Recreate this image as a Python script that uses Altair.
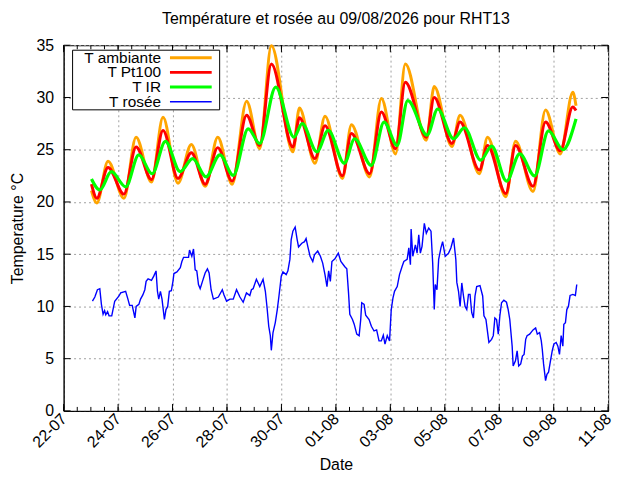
import altair as alt
import pandas as pd

FONT = "Liberation Sans"

series_names = ["T ambiante", "T Pt100", "T IR", "T rosée"]
series_colors = ["#ffa500", "#ff0000", "#00ff00", "#0000ff"]

# time in days since 22-07-2026 00:00
amb_days = [1.022, 1.22, 1.63, 2.215, 2.66, 3.226, 3.65, 4.2, 4.69, 5.2,
            5.66, 6.19, 6.72, 7.2, 7.63, 8.42, 8.66, 9.23, 9.6, 10.24,
            10.57, 11.24, 11.67, 12.19, 12.55, 13.32, 13.61, 14.26, 14.56, 15.27,
            15.57, 16.24, 16.6, 17.24, 17.7, 18.24, 18.7, 18.82]
amb_vals = [21.1, 19.9, 23.9, 20.35, 26.2, 21.9, 28.1, 21.8, 25.5, 21.5,
            26.2, 21.7, 29.65, 25.1, 34.95, 24.8, 29.0, 23.7, 28.2, 22.25,
            27.4, 22.4, 29.9, 24.6, 33.2, 25.9, 31.05, 25.3, 28.3, 22.7,
            26.2, 20.5, 25.8, 21.0, 28.8, 24.6, 30.5, 29.2]

pt_days = [1.022, 1.22, 1.63, 2.215, 2.66, 3.226, 3.65, 4.2, 4.69, 5.2,
           5.66, 6.19, 6.72, 7.2, 7.63, 8.42, 8.66, 9.23, 9.6, 10.24,
           10.57, 11.24, 11.67, 12.19, 12.55, 13.32, 13.61, 14.26, 14.56, 15.27,
           15.57, 16.24, 16.6, 17.24, 17.7, 18.24, 18.7, 18.82]
pt_vals = [21.7, 20.35, 23.3, 20.75, 25.25, 22.15, 26.85, 22.25, 24.7, 21.7,
           25.2, 22.0, 28.3, 25.4, 33.2, 25.25, 28.05, 24.15, 27.3, 22.5,
           26.55, 22.7, 28.6, 25.1, 31.45, 26.2, 30.0, 25.6, 27.65, 23.05,
           25.4, 20.8, 25.4, 21.5, 27.65, 24.9, 29.1, 28.75]

ir_days = [1.022, 1.33, 1.75, 2.28, 2.76, 3.25, 3.74, 4.28, 4.74, 5.23,
           5.74, 6.23, 6.78, 7.2, 7.79, 8.46, 8.76, 9.3, 9.72, 10.31,
           10.69, 11.3, 11.77, 12.25, 12.64, 13.35, 13.74, 14.32, 14.72, 15.32,
           15.72, 16.27, 16.75, 17.3, 17.81, 18.34, 18.82]
ir_vals = [22.2, 21.15, 22.9, 21.45, 24.5, 22.7, 25.8, 22.9, 24.15, 22.4,
           24.5, 22.55, 27.0, 25.6, 31.0, 26.2, 27.5, 24.8, 26.85, 23.7,
           26.05, 23.5, 27.65, 25.4, 29.7, 26.4, 28.9, 26.05, 27.1, 24.0,
           25.35, 22.0, 24.6, 22.5, 26.8, 25.0, 27.95]

dew_days = [1.058, 1.146, 1.241, 1.328, 1.387, 1.449, 1.504, 1.547, 1.613, 1.668,
            1.766, 1.876, 2.033, 2.095, 2.277, 2.361, 2.423, 2.518, 2.617, 2.664,
            2.763, 2.825, 2.909, 2.982, 3.029, 3.102, 3.226, 3.31, 3.394, 3.445,
            3.493, 3.555, 3.613, 3.701, 3.759, 3.821, 3.883, 3.956, 4.015, 4.051,
            4.161, 4.285, 4.343, 4.405, 4.588, 4.624, 4.708, 4.770, 4.832, 4.891,
            4.953, 5.015, 5.099, 5.197, 5.281, 5.343, 5.416, 5.5, 5.682, 5.828,
            5.891, 5.985, 6.109, 6.23, 6.350, 6.474, 6.595, 6.715, 6.839, 6.898,
            6.96, 7.08, 7.204, 7.325, 7.409, 7.471, 7.533, 7.591, 7.628, 7.69,
            7.774, 7.847, 7.909, 7.993, 8.055, 8.175, 8.237, 8.310, 8.358, 8.42,
            8.504, 8.577, 8.628, 8.748, 8.847, 8.905, 8.967, 9.051, 9.15, 9.212,
            9.332, 9.431, 9.515, 9.599, 9.672, 9.734, 9.796, 9.854, 9.964, 10.088,
            10.182, 10.328, 10.401, 10.464, 10.511, 10.609, 10.672, 10.766, 10.854, 10.912,
            10.949, 11.036, 11.095, 11.219, 11.303, 11.401, 11.496, 11.584, 11.668, 11.741,
            11.803, 11.887, 11.971, 12.033, 12.095, 12.153, 12.252, 12.336, 12.434, 12.496,
            12.617, 12.679, 12.737, 12.763, 12.825, 12.920, 12.982, 13.044, 13.102, 13.164,
            13.248, 13.321, 13.409, 13.493, 13.555, 13.613, 13.650, 13.712, 13.774, 13.858,
            13.920, 14.015, 14.139, 14.223, 14.321, 14.405, 14.442, 14.504, 14.562, 14.624,
            14.686, 14.745, 14.807, 14.869, 14.927, 14.989, 15.051, 15.109, 15.171, 15.292,
            15.391, 15.438, 15.511, 15.573, 15.620, 15.719, 15.781, 15.839, 15.901, 15.964,
            16.022, 16.084, 16.168, 16.266, 16.328, 16.387, 16.474, 16.511, 16.595, 16.657,
            16.715, 16.788, 16.85, 16.912, 16.971, 17.022, 17.117, 17.241, 17.336, 17.398,
            17.482, 17.544, 17.580, 17.628, 17.701, 17.752, 17.810, 17.872, 17.945, 18.007,
            18.091, 18.153, 18.212, 18.274, 18.336, 18.372, 18.431, 18.482, 18.540, 18.602,
            18.701, 18.796, 18.847]
dew_vals = [10.5, 10.9, 11.6, 11.7, 10.2, 9.25, 9.6, 9.2, 9.5, 9.1,
            9.1, 10.5, 11.0, 11.3, 11.45, 10.7, 10.1, 10.1, 8.9, 10.0,
            10.2, 10.7, 11.1, 11.6, 12.4, 12.65, 12.5, 12.9, 13.4, 11.45,
            10.7, 11.45, 10.7, 8.75, 9.7, 10.0, 11.45, 11.5, 12.4, 13.15,
            13.3, 13.7, 14.3, 14.7, 14.7, 15.4, 14.8, 15.5, 13.5, 13.4,
            12.1, 11.7, 12.4, 13.2, 13.6, 13.2, 11.6, 10.7, 10.9, 11.6,
            11.1, 10.5, 10.7, 10.7, 11.6, 10.9, 10.4, 11.3, 11.05, 11.6,
            11.7, 12.6, 11.9, 12.6, 11.45, 9.9, 8.1, 7.2, 5.8, 7.5,
            8.45, 9.7, 11.0, 12.9, 13.3, 13.05, 13.4, 14.5, 16.4, 17.2,
            17.6, 16.4, 15.7, 16.05, 16.2, 16.5, 15.75, 14.8, 14.3, 14.95,
            15.3, 14.8, 14.15, 13.05, 11.9, 13.4, 12.4, 14.3, 14.55, 15.1,
            14.3, 13.8, 13.6, 11.3, 9.25, 8.75, 8.3, 7.35, 7.2, 8.75,
            10.35, 10.2, 9.15, 8.75, 8.1, 7.65, 7.75, 6.7, 6.7, 7.25,
            6.4, 7.2, 6.7, 9.7, 10.8, 11.45, 11.9, 13.05, 13.85, 14.3,
            14.5, 15.6, 14.0, 17.4, 14.8, 15.9, 15.1, 16.85, 15.1, 15.75,
            17.95, 17.0, 17.5, 17.2, 14.15, 9.7, 12.1, 11.6, 14.5, 15.6,
            16.2, 14.8, 15.1, 15.6, 16.55, 14.5, 12.3, 11.45, 10.0, 12.25,
            11.0, 10.0, 9.7, 11.15, 11.15, 9.4, 8.9, 11.0, 11.9, 12.0,
            11.0, 9.1, 8.75, 7.5, 6.55, 6.85, 7.2, 8.9, 8.75, 7.35,
            9.1, 10.35, 10.6, 10.4, 9.7, 8.75, 6.2, 4.3, 4.8, 5.75,
            4.3, 4.5, 5.25, 5.4, 6.85, 7.2, 7.35, 7.75, 7.95, 7.35,
            7.5, 6.7, 5.9, 4.5, 2.9, 3.5, 3.7, 4.65, 5.75, 6.4,
            6.55, 6.2, 5.4, 7.2, 6.2, 8.3, 8.45, 9.7, 10.0, 11.05,
            11.15, 11.05, 12.1]

y_ticks = [0, 5, 10, 15, 20, 25, 30, 35]

start = pd.Timestamp("2026-07-22")
end = pd.Timestamp("2026-08-11")


def frame(days, vals):
    return pd.DataFrame({"time": start + pd.to_timedelta(days, unit="D"), "value": vals})


W, H = 548, 368

major = pd.date_range(start, end, freq="2D")
minor = pd.date_range(start, end, freq="12h")
x_tick_values = [alt.DateTime(year=d.year, month=d.month, date=d.day) for d in major]

xscale = alt.Scale(domain=[alt.DateTime(year=2026, month=7, date=22),
                           alt.DateTime(year=2026, month=8, date=11)])
yscale = alt.Scale(domain=[0, 35], nice=False)

xaxis = alt.Axis(values=x_tick_values, format="%d-%m", labelAngle=315, labelAlign="right",
                 labelBaseline="middle", labelPadding=5, labelFlush=False, labelOverlap=False,
                 ticks=False, tickSize=0, grid=True, gridDash=[2, 3], gridColor="#a0a0a0",
                 title="Date", titlePadding=6)
yaxis = alt.Axis(values=y_ticks, labelPadding=10, ticks=False, tickSize=0, grid=True,
                 gridDash=[2, 3], gridColor="#a0a0a0", title="Temperature °C", titlePadding=11,
                 labelFlush=False)

X = alt.X("time:T", scale=xscale, axis=xaxis)
Y = alt.Y("value:Q", scale=yscale, axis=yaxis)

amb = alt.Chart(frame(amb_days, amb_vals)).mark_line(
    color=series_colors[0], strokeWidth=3, interpolate="monotone").encode(x=X, y=Y)

pt = alt.Chart(frame(pt_days, pt_vals)).mark_line(
    color=series_colors[1], strokeWidth=3, interpolate="monotone").encode(x=X, y=Y)

ir = alt.Chart(frame(ir_days, ir_vals)).mark_line(
    color=series_colors[2], strokeWidth=3.2, interpolate="monotone").encode(x=X, y=Y)

dew = alt.Chart(frame(dew_days, dew_vals)).mark_line(
    color=series_colors[3], strokeWidth=1.4).encode(x=X, y=Y)

# inward ticks (gnuplot style), on all four sides
maj_df = pd.DataFrame({"time": major})
min_df = pd.DataFrame({"time": minor})
yt_df = pd.DataFrame({"value": y_ticks})


def xt(df, y0, y1):
    return alt.Chart(df).mark_rule(color="black", strokeWidth=1).encode(
        x=X, y=alt.value(y0), y2=alt.value(y1))


def yt(x0, x1):
    return alt.Chart(yt_df).mark_rule(color="black", strokeWidth=1).encode(
        y=Y, x=alt.value(x0), x2=alt.value(x1))


ticks = [xt(maj_df, H - 7, H), xt(min_df, H - 4, H), xt(maj_df, 0, 7), xt(min_df, 0, 4),
         yt(0, 7), yt(W - 7, W)]

# legend (gnuplot style: label then line sample)
leg_df = pd.DataFrame({"name": series_names, "row": list(range(len(series_names)))})
color_scale = alt.Scale(domain=series_names, range=series_colors)

leg_box = alt.Chart(pd.DataFrame({"k": [0]})).mark_rect(
    fill="white", stroke="black", strokeWidth=1).encode(
    x=alt.value(9), x2=alt.value(157), y=alt.value(5), y2=alt.value(65))

leg_text = alt.Chart(leg_df).transform_calculate(py="12.5 + 14.8 * datum.row").mark_text(
    align="right", baseline="middle", font=FONT, fontSize=15.5, color="black").encode(
    x=alt.value(98), y=alt.Y("py:Q", scale=None, axis=None), text="name:N")

leg_line = alt.Chart(leg_df).transform_calculate(py="12.5 + 14.8 * datum.row").mark_rule().encode(
    x=alt.value(107), x2=alt.value(149), y=alt.Y("py:Q", scale=None, axis=None),
    color=alt.Color("name:N", scale=color_scale, legend=None),
    strokeWidth=alt.condition("datum.name == 'T rosée'", alt.value(1.5), alt.value(3)))

chart = alt.layer(amb, pt, ir, dew, *ticks, leg_box, leg_text, leg_line).properties(
    width=W, height=H,
    title=alt.Title("Température et rosée au 09/08/2026 pour RHT13", offset=10),
    autosize=alt.AutoSizeParams(type="none"),
    padding={"left": 56, "top": 36, "right": 24, "bottom": 60},
).configure_view(stroke="black", strokeWidth=1).configure_axis(
    domainColor="black", domainWidth=1, labelColor="black", titleColor="black",
    labelFont=FONT, titleFont=FONT, labelFontSize=16, titleFontSize=16,
    titleFontWeight="normal").configure_title(
    font=FONT, fontSize=16, fontWeight="normal", color="black", anchor="middle")

chart.save("out.html", embed_options={"renderer": "svg", "actions": False})
